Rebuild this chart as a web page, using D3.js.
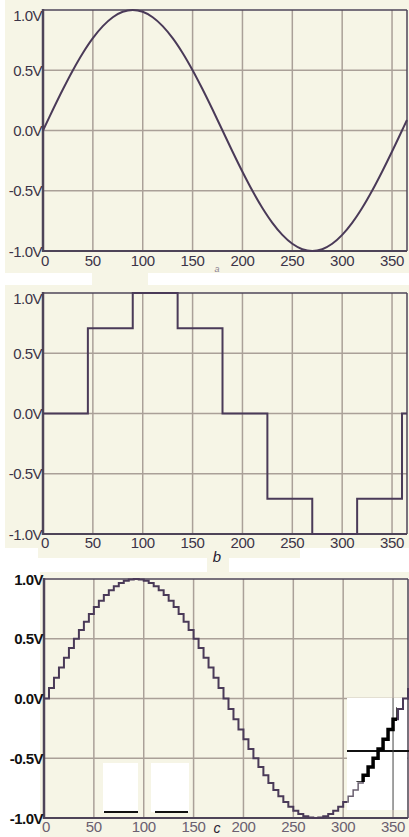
<!DOCTYPE html>
<html><head><meta charset="utf-8">
<script src="https://cdn.jsdelivr.net/npm/d3@7"></script>
<style>
html,body{margin:0;padding:0;background:#ffffff;}
svg{display:block;}
text{font-family:"Liberation Sans",Arial,sans-serif;}
</style></head>
<body>
<svg id="chart" width="409" height="837"></svg>
<script>
// ---------- data ----------
const xTicks = [0, 50, 100, 150, 200, 250, 300, 350];
const yTicks = [1.0, 0.5, 0.0, -0.5, -1.0];
const yTickLabels = ["1.0V", "0.5V", "0.0V", "-0.5V", "-1.0V"];
const panelLetters = ["a", "b", "c"];

// (a) continuous sine, read every 10 degrees
const anglesA = [0,10,20,30,40,50,60,70,80,90,100,110,120,130,140,150,160,170,180,
  190,200,210,220,230,240,250,260,270,280,290,300,310,320,330,340,350,360,365];
const valuesA = [0,0.174,0.342,0.5,0.643,0.766,0.866,0.94,0.985,1,0.985,0.94,0.866,0.766,0.643,0.5,0.342,0.174,0,
  -0.174,-0.342,-0.5,-0.643,-0.766,-0.866,-0.94,-0.985,-1,-0.985,-0.94,-0.866,-0.766,-0.643,-0.5,-0.342,-0.174,0,0.087];

// (b) coarse 45-degree steps
const anglesB = [0,45,90,135,180,225,270,315,360,365];
const valuesB = [0,0.707,1,0.707,0,-0.707,-1,-0.707,0,0];

// (c) fine 5-degree steps
const anglesC = [0,5,10,15,20,25,30,35,40,45,50,55,60,65,70,75,80,85,90,95,100,105,110,115,120,125,130,135,140,145,150,155,160,165,170,175,
  180,185,190,195,200,205,210,215,220,225,230,235,240,245,250,255,260,265,270,275,280,285,290,295,300,305,310,315,320,325,330,335,340,345,350,355,360,365];
const valuesC = [0,0.087,0.174,0.259,0.342,0.423,0.5,0.574,0.643,0.707,0.766,0.819,0.866,0.906,0.94,0.966,0.985,0.996,1,
  0.996,0.985,0.966,0.94,0.906,0.866,0.819,0.766,0.707,0.643,0.574,0.5,0.423,0.342,0.259,0.174,0.087,
  0,-0.087,-0.174,-0.259,-0.342,-0.423,-0.5,-0.574,-0.643,-0.707,-0.766,-0.819,-0.866,-0.906,-0.94,-0.966,-0.985,-0.996,-1,
  -0.996,-0.985,-0.966,-0.94,-0.906,-0.866,-0.819,-0.766,-0.707,-0.643,-0.574,-0.5,-0.423,-0.342,-0.259,-0.174,-0.087,0,0.087];

// ---------- drawing ----------
const svg = d3.select("#chart");
const cream = "#f6f5e6";
const gridCol = "#aaa098";
const axisCol = "#4e4458";
const curveCol = "#4a3a58";

// paper patches (scan background)
[[5,0,404,273],[92,272,56,14],[5,285,404,263],[38,547,262,11],[207,557,22,16],[40,572,369,265]]
  .forEach(r => svg.append("rect").attr("x",r[0]).attr("y",r[1]).attr("width",r[2]).attr("height",r[3]).attr("fill",cream));

const panels = [
  {ang: anglesA, val: valuesA, curve: d3.curveCatmullRom, x0: 43, x1: 407, yT: 10, yB: 251, lblY: 266, letY: 272, letSize: 9, txt: "#3c3448", tickTxt: "#3c3448", weight: "normal", topAlign: true},
  {ang: anglesB, val: valuesB, curve: d3.curveStepAfter, x0: 43, x1: 407, yT: 293, yB: 534, lblY: 548, letY: 562, letSize: 15, txt: "#3c3448", tickTxt: "#3c3448", weight: "normal", topAlign: true},
  {ang: anglesC, val: valuesC, curve: d3.curveStepAfter, x0: 44, x1: 408, yT: 579, yB: 818, lblY: 832, letY: 833, letSize: 14, txt: "#111111", tickTxt: "#6a6070", weight: "bold", topAlign: false}
];

panels.forEach((p, i) => {
  const x = d3.scaleLinear().domain([0, 365]).range([p.x0, p.x1]);
  const y = d3.scaleLinear().domain([-1, 1]).range([p.yB, p.yT]);
  const g = svg.append("g");

  // grid
  g.selectAll(".vg").data(xTicks.filter(d => d > 0)).enter().append("line")
    .attr("x1", d => x(d)).attr("x2", d => x(d)).attr("y1", p.yT).attr("y2", p.yB)
    .attr("stroke", gridCol).attr("stroke-width", 1.5);
  g.selectAll(".hg").data(yTicks.filter(d => Math.abs(d) < 1)).enter().append("line")
    .attr("x1", p.x0).attr("x2", p.x1).attr("y1", d => y(d)).attr("y2", d => y(d))
    .attr("stroke", gridCol).attr("stroke-width", 1.5);

  // frame
  g.append("line").attr("x1", p.x0).attr("x2", p.x1).attr("y1", p.yT).attr("y2", p.yT).attr("stroke", axisCol).attr("stroke-width", 1.5);
  g.append("line").attr("x1", p.x1).attr("x2", p.x1).attr("y1", p.yT).attr("y2", p.yB).attr("stroke", axisCol).attr("stroke-width", 1.5);
  g.append("line").attr("x1", p.x0).attr("x2", p.x1).attr("y1", p.yB).attr("y2", p.yB).attr("stroke", axisCol).attr("stroke-width", 2.2);
  g.append("line").attr("x1", p.x0).attr("x2", p.x0).attr("y1", p.yT - 1).attr("y2", p.yB + 1).attr("stroke", axisCol).attr("stroke-width", 2.5);

  // curve
  const pts = p.ang.map((a, k) => [a, p.val[k]]);
  const line = d3.line().x(d => x(d[0])).y(d => y(d[1])).curve(p.curve);
  g.append("path").attr("d", line(pts)).attr("fill", "none")
    .attr("stroke", curveCol).attr("stroke-width", 2).attr("stroke-linejoin", "miter");

  // y labels
  g.selectAll(".yl").data(yTicks).enter().append("text")
    .attr("x", p.x0 - 1)
    .attr("y", (d, k) => (p.topAlign && k === 0) ? y(d) + 11 : y(d) + 5.5)
    .attr("text-anchor", "end").attr("font-size", 15).attr("font-weight", p.weight)
    .attr("fill", p.txt).attr("letter-spacing", -0.5)
    .text((d, k) => yTickLabels[k]);

  // x labels
  g.selectAll(".xl").data(xTicks).enter().append("text")
    .attr("x", d => x(d) + (d === 0 ? 2 : 0)).attr("y", p.lblY)
    .attr("text-anchor", "middle").attr("font-size", 15)
    .attr("fill", p.tickTxt).attr("letter-spacing", -0.3)
    .text(d => d);

  // panel letter
  g.append("text").attr("x", 217).attr("y", p.letY).attr("text-anchor", "middle")
    .attr("font-size", p.letSize).attr("font-style", "italic").attr("fill", i === 0 ? "#8a8090" : "#2a2233")
    .text(panelLetters[i]);

  if (i === 2) {
    // scan artefacts on panel c
    [[103,763,35,49],[151,763,38,49]].forEach(r =>
      svg.append("rect").attr("x", r[0]).attr("y", r[1]).attr("width", r[2]).attr("height", r[3]).attr("fill", "#fff"));
    [[104,138],[155,188]].forEach(r =>
      svg.append("line").attr("x1", r[0]).attr("x2", r[1]).attr("y1", 812).attr("y2", 812).attr("stroke", "#111").attr("stroke-width", 2));
    svg.append("rect").attr("x", 347).attr("y", 698).attr("width", 60).attr("height", 112).attr("fill", "#fff");
    svg.append("line").attr("x1", 347).attr("x2", 409).attr("y1", 751).attr("y2", 751).attr("stroke", "#111").attr("stroke-width", 2);
    svg.append("line").attr("x1", x(350)).attr("x2", x(350)).attr("y1", 698).attr("y2", 810).attr("stroke", "#444").attr("stroke-width", 1);
    const clip = svg.append("clipPath").attr("id", "clipC");
    clip.append("rect").attr("x", 347).attr("y", 700).attr("width", 50).attr("height", 82);
    svg.append("path").attr("d", line(pts)).attr("fill", "none").attr("clip-path", "url(#clipC)")
      .attr("stroke", "#000").attr("stroke-width", 3.5);
    const clip2 = svg.append("clipPath").attr("id", "clipC2");
    clip2.append("rect").attr("x", 347).attr("y", 782).attr("width", 50).attr("height", 28);
    svg.append("path").attr("d", line(pts)).attr("fill", "none").attr("clip-path", "url(#clipC2)")
      .attr("stroke", "#6a6070").attr("stroke-width", 1.5);
    const clip3 = svg.append("clipPath").attr("id", "clipC3");
    clip3.append("rect").attr("x", 397).attr("y", 698).attr("width", 12).attr("height", 112);
    svg.append("path").attr("d", line(pts)).attr("fill", "none").attr("clip-path", "url(#clipC3)")
      .attr("stroke", curveCol).attr("stroke-width", 2);
  }
});
</script>
</body></html>
